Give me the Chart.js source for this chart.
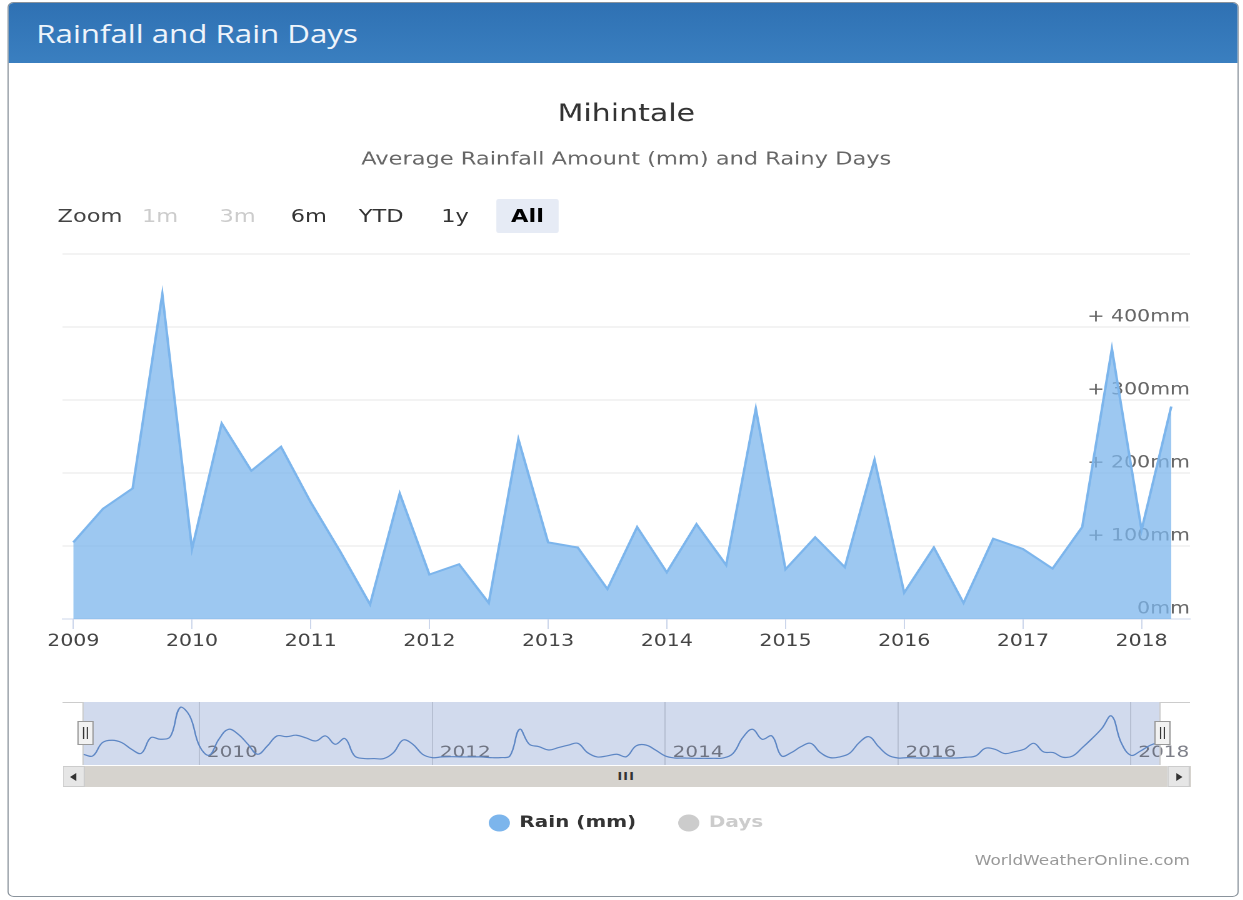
<!DOCTYPE html>
<html>
<head>
<meta charset="utf-8">
<title>Rainfall and Rain Days - Mihintale</title>
<script src="https://cdn.jsdelivr.net/npm/chart.js@4.4.1/dist/chart.umd.min.js"></script>
<style>
    html, body { margin: 0; padding: 0; background: #fff; overflow: hidden; }
    /* the source screenshot is stretched sideways, so the page is laid out narrow and widened */
    #page { position: relative; width: 995px; height: 900px; transform: scaleX(1.25); transform-origin: 0 0;
            font-family: 'DejaVu Sans', sans-serif; }
    .panel { position: absolute; left: 6px; top: 2px; width: 983px; height: 893px;
             border: 1.5px solid #8a939c; border-radius: 5px; }
    .panel-heading { position: absolute; left: 0; top: 0; right: 0; height: 60px; padding-left: 22px;
                     background: linear-gradient(#2f71b3, #3a7fc0); border-radius: 4px 4px 0 0;
                     color: #eef4fb; font: 25px/60px 'Open Sans', sans-serif; }
    canvas { position: absolute; left: 0; }
    #main { top: 70px; }
    #nav { top: 690px; }
    #range span { position: absolute; top: 199px; height: 34px; line-height: 34px; font-size: 18px; }
    #range .btn { width: 50px; text-align: center; color: #333; border-radius: 2px; }
    #range .off { color: #cccccc; }
    #range .on { background: #e6ebf5; color: #000; font-weight: bold; }
    #range .zlabel { left: 46px; color: #444; }
    #scroll { position: absolute; left: 50px; top: 766px; width: 902px; height: 21px; background: #f2f2f2; }
    .sb-btn { position: absolute; top: 0; width: 16px; height: 19px; background: #e6e6e6; border: 1px solid #cccccc; }
    .sb-btn i { position: absolute; top: 6px; left: 5px; width: 0; height: 0;
                border-top: 4px solid transparent; border-bottom: 4px solid transparent; }
    .sb-left i { border-right: 5px solid #333; }
    .sb-right i { border-left: 5px solid #333; left: 6px; }
    .sb-thumb { position: absolute; top: 0; left: 18px; right: 18px; height: 21px; background: #d6d3ce;
                text-align: center; font: bold 10px/21px 'DejaVu Sans', sans-serif; color: #333; letter-spacing: 1px; }
    #credits { position: absolute; right: 43px; top: 852px; font-size: 13.5px; color: #999; }
</style>
</head>
<body>
<div id="page">
    <div class="panel"><div class="panel-heading">Rainfall and Rain Days</div></div>

    <canvas id="main" width="995" height="600"></canvas>

    <div id="range">
        <span class="zlabel">Zoom</span>
        <span class="btn off" style="left:103px">1m</span>
        <span class="btn off" style="left:165px">3m</span>
        <span class="btn" style="left:222px">6m</span>
        <span class="btn" style="left:280px">YTD</span>
        <span class="btn" style="left:339px">1y</span>
        <span class="btn on" style="left:397px">All</span>
    </div>

    <canvas id="nav" width="995" height="160"></canvas>

    <div id="scroll">
        <div class="sb-btn sb-left" style="left:0"><i></i></div>
        <div class="sb-thumb">III</div>
        <div class="sb-btn sb-right" style="right:0"><i></i></div>
    </div>

    <div id="credits">WorldWeatherOnline.com</div>
</div>

<script>
// quarterly rainfall, main area series
const rainDates = [
    '2009-01', '2009-04', '2009-07', '2009-10', '2010-01', '2010-04', '2010-07', '2010-10',
    '2011-01', '2011-04', '2011-07', '2011-10', '2012-01', '2012-04', '2012-07', '2012-10',
    '2013-01', '2013-04', '2013-07', '2013-10', '2014-01', '2014-04', '2014-07', '2014-10',
    '2015-01', '2015-04', '2015-07', '2015-10', '2016-01', '2016-04', '2016-07', '2016-10',
    '2017-01', '2017-04', '2017-07', '2017-10', '2018-01', '2018-04'
];
const rainMm = [
    105, 151, 179, 445, 96, 268, 203, 236,
    160, 92, 20, 172, 61, 75, 22, 246,
    105, 98, 41, 126, 64, 130, 74, 288,
    68, 112, 71, 218, 36, 98, 22, 110,
    96, 69, 126, 370, 122, 291
];

// monthly rainfall drawn in the navigator strip, starting Jan 2009
const navStartYear = 2009;
const navRainMm = [
    42, 28, 140, 160, 140, 84, 50, 182, 168, 190, 434, 364,
    112, 34, 168, 252, 210, 126, 42, 112, 196, 190, 202, 179,
    154, 196, 126, 174, 28, 6, 6, 6, 56, 162, 126, 42,
    14, 20, 22, 20, 20, 20, 14, 14, 28, 252, 126, 106,
    78, 98, 118, 134, 56, 20, 28, 42, 22, 112, 120, 78,
    28, 11, 11, 8, 8, 8, 11, 50, 182, 252, 168, 196,
    28, 56, 106, 134, 56, 14, 20, 50, 140, 190, 106, 34,
    11, 14, 11, 11, 11, 11, 11, 17, 28, 92, 84, 48,
    64, 84, 134, 62, 56, 17, 28, 98, 174, 258, 364, 140,
    34, 70, 118, 146
];

const yearTicks = [2009, 2010, 2011, 2012, 2013, 2014, 2015, 2016, 2017, 2018];
const navYearTicks = [2010, 2012, 2014, 2016, 2018];
const yTicks = [0, 100, 200, 300, 400, 500];
const yTickLabels = ['0mm', '+ 100mm', '+ 200mm', '+ 300mm', '+ 400mm', ''];
const seriesNames = ['Rain (mm)', 'Days'];
const legendColors = ['#7cb5ec', '#cccccc'];
const legendTextColors = ['#333333', '#cccccc'];

const FONT = "'DejaVu Sans', sans-serif";

function toYear(d) {
    const [y, m] = d.split('-').map(Number);
    return y + (m - 1) / 12;
}

const navX = navRainMm.map((v, i) => navStartYear + i / 12);

new Chart(document.getElementById('main'), {
    type: 'line',
    data: {
        datasets: [{
            label: seriesNames[0],
            data: rainDates.map((d, i) => ({ x: toYear(d), y: rainMm[i] })),
            borderColor: '#7cb5ec',
            borderWidth: 2,
            backgroundColor: 'rgba(124,181,236,0.75)',
            fill: 'origin',
            pointRadius: 0,
            tension: 0,
        }],
    },
    options: {
        responsive: false,
        animation: false,
        devicePixelRatio: 2,
        layout: { padding: { left: 50, right: 43, top: 30.6, bottom: 15.3 } },
        plugins: {
            legend: { display: false },
            tooltip: { enabled: false },
            title: {
                display: true, text: 'Mihintale', color: '#333',
                font: { family: FONT, size: 24, weight: 'normal' },
                padding: { top: 0, bottom: 19.8 },
            },
            subtitle: {
                display: true, text: 'Average Rainfall Amount (mm) and Rainy Days', color: '#666',
                font: { family: FONT, size: 18 },
                padding: { top: 0, bottom: 83.2 },
            },
        },
        scales: {
            x: {
                type: 'linear', min: 2008.909, max: 2018.408,
                afterBuildTicks: s => { s.ticks = yearTicks.map(v => ({ value: v })); },
                grid: { drawOnChartArea: false, drawTicks: true, tickLength: 10, tickColor: '#ccd6eb' },
                border: { color: '#ccd6eb' },
                ticks: { color: '#444', font: { family: FONT, size: 16.4 }, padding: 3, maxRotation: 0, callback: v => String(v) },
            },
            y: {
                position: 'right', min: 0, max: 500,
                afterBuildTicks: s => { s.ticks = yTicks.map(v => ({ value: v })); },
                grid: { color: '#e6e6e6', drawTicks: false },
                border: { display: false },
                ticks: { display: false },
            },
            yLabels: {
                position: 'right', min: 0, max: 500, z: 1,
                afterBuildTicks: s => { s.ticks = yTicks.map(v => ({ value: v })); },
                grid: { display: false, drawTicks: false },
                border: { display: false },
                ticks: {
                    mirror: true, padding: 0, labelOffset: -10, color: '#666',
                    font: { family: FONT, size: 16.4 },
                    callback: (v, i) => yTickLabels[i],
                },
            },
        },
    },
});

// selection mask, year labels, outline and handles of the navigator
const navigatorParts = {
    id: 'navigatorParts',
    beforeDatasetsDraw(chart) {
        const { ctx, chartArea: a, scales: { x } } = chart;
        const x0 = x.getPixelForValue(navX[0]);
        const x1 = x.getPixelForValue(navX[navX.length - 1]);
        ctx.save();
        ctx.fillStyle = 'rgba(102,133,194,0.3)';
        ctx.fillRect(x0, a.top, x1 - x0, a.bottom - a.top);
        ctx.font = '16px ' + FONT;
        ctx.fillStyle = 'rgba(70,72,85,0.7)';
        ctx.textBaseline = 'middle';
        navYearTicks.forEach(t => ctx.fillText(String(t), x.getPixelForValue(t) + 6, a.bottom - 12));
        ctx.restore();
    },
    afterDatasetsDraw(chart) {
        const { ctx, chartArea: a, scales: { x } } = chart;
        const x0 = x.getPixelForValue(navX[0]);
        const x1 = x.getPixelForValue(navX[navX.length - 1]);
        ctx.save();
        ctx.strokeStyle = '#cccccc';
        ctx.lineWidth = 1;
        ctx.beginPath();
        ctx.moveTo(a.left, a.top + 0.5);
        ctx.lineTo(x0, a.top + 0.5);
        ctx.lineTo(x0, a.bottom);
        ctx.moveTo(x1, a.bottom);
        ctx.lineTo(x1, a.top + 0.5);
        ctx.lineTo(a.right, a.top + 0.5);
        ctx.stroke();
        [x0 + 2, x1 + 2].forEach(hx => {
            ctx.fillStyle = '#f2f2f2';
            ctx.strokeStyle = '#999';
            ctx.fillRect(hx - 6, a.top + 19.5, 12, 23);
            ctx.strokeRect(hx - 6, a.top + 19.5, 12, 23);
            ctx.strokeStyle = '#333';
            ctx.beginPath();
            ctx.moveTo(hx - 1.5, a.top + 25); ctx.lineTo(hx - 1.5, a.top + 37);
            ctx.moveTo(hx + 1.5, a.top + 25); ctx.lineTo(hx + 1.5, a.top + 37);
            ctx.stroke();
        });
        ctx.restore();
    },
};

new Chart(document.getElementById('nav'), {
    type: 'line',
    data: {
        datasets: [
            {
                label: seriesNames[0],
                data: navRainMm.map((v, i) => ({ x: navX[i], y: v })),
                borderColor: '#5d86c4',
                borderWidth: 1.2,
                backgroundColor: legendColors[0],
                fill: false,
                pointRadius: 0,
                tension: 0.4,
            },
            {
                label: seriesNames[1],
                data: [],
                hidden: true,
                backgroundColor: legendColors[1],
                borderColor: legendColors[1],
            },
        ],
    },
    options: {
        responsive: false,
        animation: false,
        devicePixelRatio: 2,
        layout: { padding: { left: 50, right: 43, top: 12, bottom: 9 } },
        plugins: {
            tooltip: { enabled: false },
            legend: {
                position: 'bottom',
                onClick: null,
                labels: {
                    usePointStyle: true, pointStyle: 'circle',
                    boxWidth: 16, boxHeight: 12, padding: 34,
                    font: { family: FONT, size: 16, weight: 'bold' },
                    generateLabels: chart => chart.data.datasets.map((ds, i) => ({
                        text: ds.label,
                        fillStyle: legendColors[i],
                        strokeStyle: legendColors[i],
                        fontColor: legendTextColors[i],
                        lineWidth: 0,
                        hidden: false,
                        pointStyle: 'circle',
                        datasetIndex: i,
                    })),
                },
            },
        },
        scales: {
            x: {
                type: 'linear', min: 2008.824, max: 2018.508,
                afterBuildTicks: s => { s.ticks = navYearTicks.map(v => ({ value: v })); },
                grid: { color: '#d8d8d8', drawTicks: true, tickLength: 16, tickColor: 'rgba(0,0,0,0)' },
                border: { display: false },
                ticks: { display: false },
            },
            y: { display: false, min: -48, max: 481 },
        },
    },
    plugins: [navigatorParts],
});
</script>
</body>
</html>
